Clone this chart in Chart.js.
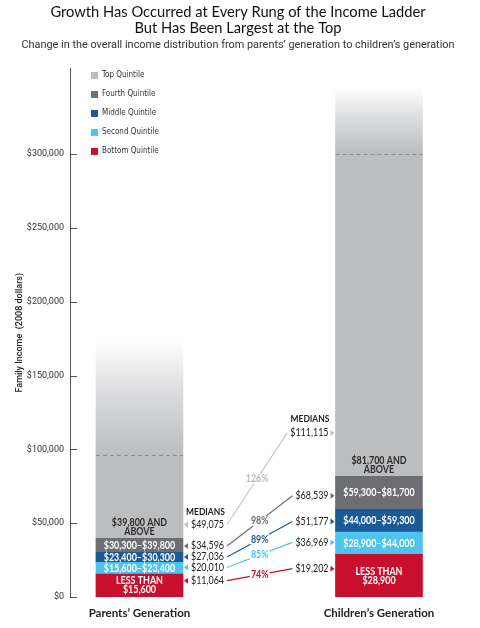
<!DOCTYPE html>
<html>
<head>
<meta charset="utf-8">
<script src="https://cdn.jsdelivr.net/npm/chart.js@4.4.1/dist/chart.umd.min.js"></script>
<style>
  html, body { margin: 0; padding: 0; background: #fff; }
  #wrap { width: 480px; height: 628px; }
</style>
</head>
<body>
<div id="wrap"><canvas id="incomeChart"></canvas></div>
<script>
const categories = ["Parents\u2019 Generation", "Children\u2019s Generation"];
const quintiles = ['Bottom Quintile', 'Second Quintile', 'Middle Quintile', 'Fourth Quintile', 'Top Quintile'];
const yTicks = [0, 50000, 100000, 150000, 200000, 250000, 300000];

// upper bound of each quintile, 2008 dollars (parents, children)
const bottomTop = [15600, 28900];
const secondTop = [23400, 44000];
const middleTop = [30300, 59300];
const fourthTop = [39800, 81700];
const topDashed = [96000, 300000];
const topFade = [174000, 345000];

// text inside the bars
const parentRanges = ['LESS THAN\n$15,600', '$15,600\u2013$23,400', '$23,400\u2013$30,300', '$30,300\u2013$39,800', '$39,800 AND\nABOVE'];
const childRanges = ['LESS THAN\n$28,900', '$28,900\u2013$44,000', '$44,000\u2013$59,300', '$59,300\u2013$81,700', '$81,700 AND\nABOVE'];

// medians by quintile, bottom -> top
const parentMedians = [11064, 20010, 27036, 34596, 49075];
const childMedians = [19202, 36969, 51177, 68539, 111115];
const growth = ['74%', '85%', '89%', '98%', '126%'];

const colors = ['#c8102e', '#4fc3ef', '#1a5a97', '#6d6e71', '#bcbdbf'];
const lineColors = ['#c8102e', '#4fc3ef', '#1a5a97', '#6d6e71', '#c4c5c7'];
const pctColors = ['#c8102e', '#4fc3ef', '#1a5a97', '#6d6e71', '#b5b6b8'];

const NARROW = "'Liberation Sans Narrow', 'DejaVu Sans Condensed', Roboto, sans-serif";
const BAR_W = 87;
const SQ = 0.85; // horizontal squeeze for the condensed look

const lows = [[0, 0], bottomTop, secondTop, middleTop, fourthTop];
const highs = [bottomTop, secondTop, middleTop, fourthTop, topFade];

const money = v => '$' + v.toLocaleString('en-US');

function squeeze(ctx, text, x, y) {
  const w = ctx.measureText(text).width * SQ;
  ctx.fillText(text, x, y, w);
  return w;
}

function topGradient(c) {
  const chart = c.chart;
  if (!chart.chartArea) return colors[4];
  const y = chart.scales.y;
  const i = c.dataIndex;
  const g = chart.ctx.createLinearGradient(0, y.getPixelForValue(topDashed[i]), 0, y.getPixelForValue(topFade[i]));
  g.addColorStop(0, '#bcbdbf');
  g.addColorStop(0.5, '#d8d9db');
  g.addColorStop(1, '#ffffff');
  return g;
}

const datasets = quintiles.map((q, k) => ({
  label: q,
  data: categories.map((c, i) => ({ x: i, y: [lows[k][i], highs[k][i]] })),
  backgroundColor: k === 4 ? topGradient : colors[k]
}));

const overlay = {
  id: 'overlay',
  afterDatasetsDraw(chart) {
    const { ctx, scales: { x, y } } = chart;
    const half = BAR_W / 2;
    ctx.save();

    // dashed lines in top quintile
    ctx.strokeStyle = '#8d8e90';
    ctx.lineWidth = 1;
    ctx.setLineDash([4, 3]);
    categories.forEach((c, i) => {
      const cx = x.getPixelForValue(i);
      const yy = Math.round(y.getPixelForValue(topDashed[i])) + 0.5;
      ctx.beginPath();
      ctx.moveTo(cx - half, yy);
      ctx.lineTo(cx + half, yy);
      ctx.stroke();
    });
    ctx.setLineDash([]);

    // range text inside segments
    ctx.textAlign = 'center';
    ctx.textBaseline = 'middle';
    ctx.font = 'bold 10.5px Lato';
    [parentRanges, childRanges].forEach((ranges, i) => {
      const cx = x.getPixelForValue(i);
      ranges.forEach((txt, k) => {
        const lines = txt.split('\n');
        if (k === 4) {
          ctx.fillStyle = '#2b2b2b';
          const base = y.getPixelForValue(fourthTop[i]) - 7;
          lines.forEach((ln, j) => squeeze(ctx, ln, cx, base - (lines.length - 1 - j) * 9));
        } else {
          ctx.fillStyle = '#ffffff';
          const mid = (y.getPixelForValue(lows[k][i]) + y.getPixelForValue(highs[k][i])) / 2;
          lines.forEach((ln, j) => squeeze(ctx, ln, cx, mid + (j - (lines.length - 1) / 2) * 9));
        }
      });
    });

    // medians
    const px = x.getPixelForValue(0) + half;
    const cxL = x.getPixelForValue(1) - half;
    ctx.font = '10.5px Lato';
    const ends = [];
    parentMedians.forEach((m, k) => {
      const yy = y.getPixelForValue(m);
      ctx.fillStyle = colors[k];
      ctx.beginPath();
      ctx.moveTo(px + 1, yy);
      ctx.lineTo(px + 5, yy - 3);
      ctx.lineTo(px + 5, yy + 3);
      ctx.closePath();
      ctx.fill();
      ctx.fillStyle = '#222';
      ctx.textAlign = 'left';
      ends.push(px + 8 + squeeze(ctx, money(m), px + 8, yy));
    });
    const starts = [];
    childMedians.forEach((m, k) => {
      const yy = y.getPixelForValue(m);
      ctx.fillStyle = colors[k];
      ctx.beginPath();
      ctx.moveTo(cxL - 1, yy);
      ctx.lineTo(cxL - 5, yy - 3);
      ctx.lineTo(cxL - 5, yy + 3);
      ctx.closePath();
      ctx.fill();
      ctx.fillStyle = '#222';
      ctx.textAlign = 'right';
      starts.push(cxL - 7 - squeeze(ctx, money(m), cxL - 7, yy));
    });

    ctx.font = 'bold 10px Lato';
    ctx.fillStyle = '#222';
    ctx.textAlign = 'left';
    squeeze(ctx, 'MEDIANS', px + 3, y.getPixelForValue(parentMedians[4]) - 13);
    ctx.textAlign = 'right';
    squeeze(ctx, 'MEDIANS', cxL - 6, y.getPixelForValue(childMedians[4]) - 14);

    // connectors with growth
    growth.forEach((g, k) => {
      const x1 = ends[k] + 3, y1 = y.getPixelForValue(parentMedians[k]);
      const x2 = starts[k] - 3, y2 = y.getPixelForValue(childMedians[k]);
      ctx.strokeStyle = lineColors[k];
      ctx.lineWidth = 1.2;
      ctx.beginPath();
      ctx.moveTo(x1, y1);
      ctx.lineTo(x2, y2);
      ctx.stroke();
      const mx = (x1 + x2) / 2, my = (y1 + y2) / 2;
      ctx.font = 'bold 10.5px Lato';
      const w = ctx.measureText(g).width * SQ;
      ctx.fillStyle = '#fff';
      ctx.fillRect(mx - w / 2 - 1, my - 5, w + 2, 10);
      ctx.fillStyle = pctColors[k];
      ctx.textAlign = 'center';
      squeeze(ctx, g, mx, my);
    });
    ctx.restore();
  },
  afterDraw(chart) {
    const { ctx, chartArea, scales: { y } } = chart;
    ctx.save();
    // tick marks inside the axis
    ctx.strokeStyle = '#555';
    ctx.lineWidth = 1;
    y.ticks.forEach(t => {
      const yy = Math.round(y.getPixelForValue(t.value)) + 0.5;
      ctx.beginPath();
      ctx.moveTo(chartArea.left, yy);
      ctx.lineTo(chartArea.left + 7, yy);
      ctx.stroke();
    });
    // legend
    ctx.font = '8px ' + NARROW;
    ctx.textAlign = 'left';
    ctx.textBaseline = 'middle';
    for (let k = 4; k >= 0; k--) {
      const yy = chartArea.top + 7 + (4 - k) * 19;
      ctx.fillStyle = colors[k];
      ctx.fillRect(chartArea.left + 21, yy - 3.5, 7, 7);
      ctx.fillStyle = '#333';
      ctx.fillText(quintiles[k], chartArea.left + 32, yy);
    }
    ctx.restore();
  }
};

new Chart(document.getElementById('incomeChart').getContext('2d'), {
  type: 'bar',
  data: { datasets },
  options: {
    responsive: true,
    maintainAspectRatio: false,
    animation: false,
    datasets: {
      bar: { barThickness: BAR_W, grouped: false, borderWidth: 0 }
    },
    layout: { padding: { left: 6, right: 10, top: 0, bottom: 0 } },
    scales: {
      x: {
        type: 'linear',
        offset: false,
        min: -0.29,
        max: 1.38,
        grid: { display: false },
        border: { display: false },
        ticks: {
          stepSize: 1,
          includeBounds: false,
          padding: 1,
          color: '#222',
          font: { family: 'Lato', size: 11.5, weight: 'bold' },
          callback: v => categories[v] ?? ''
        },
        afterFit: s => { s.height = 31; }
      },
      y: {
        min: 0,
        max: 358000,
        grid: { display: false, drawTicks: false },
        border: { display: true, color: '#555', width: 1 },
        afterBuildTicks: s => { s.ticks = yTicks.map(v => ({ value: v })); },
        ticks: {
          padding: 6,
          color: '#333',
          font: { family: 'Roboto', size: 9 },
          callback: v => money(v)
        },
        title: {
          display: true,
          text: 'Family Income  (2008 dollars)',
          color: '#222',
          font: { family: 'Roboto', size: 9, weight: '500' },
          padding: { top: 8, bottom: 0 }
        },
        afterFit: s => { s.width = 64; }
      }
    },
    plugins: {
      legend: { display: false },
      tooltip: { enabled: false },
      title: {
        display: true,
        text: ['Growth Has Occurred at Every Rung of the Income Ladder', 'But Has Been Largest at the Top'],
        color: '#111',
        font: { family: 'Lato', size: 14.7, weight: 'normal', lineHeight: 1.1 },
        padding: { top: 4, bottom: 2 }
      },
      subtitle: {
        display: true,
        text: 'Change in the overall income distribution from parents\u2019 generation to children\u2019s generation',
        color: '#333',
        font: { family: 'Roboto', size: 10.9 },
        padding: { top: 0, bottom: 17 }
      }
    }
  },
  plugins: [overlay]
});
</script>
</body>
</html>
